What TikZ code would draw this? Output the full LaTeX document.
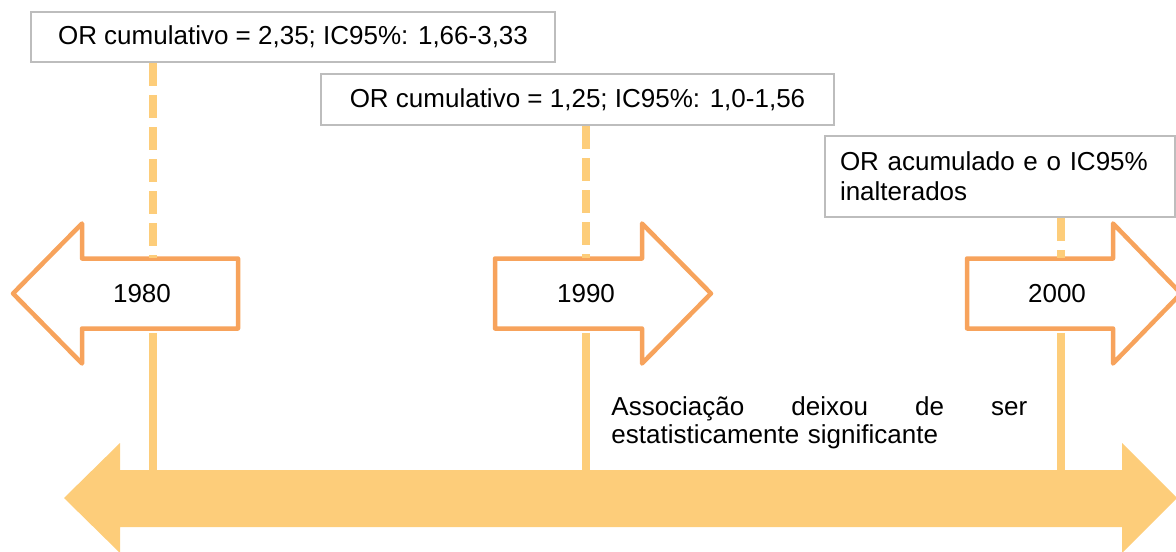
\documentclass[tikz,border=0pt]{standalone}
\usepackage{fontspec}
\setmainfont{Liberation Sans}
\definecolor{arrowline}{HTML}{F7A35C}
\definecolor{timefill}{HTML}{FDCD7A}
\definecolor{boxline}{HTML}{BDBDBD}
\tikzset{
  orbox/.style={draw=boxline, line width=1pt, fill=white, inner sep=0pt, font=\fontsize{13}{15}\selectfont},
  yearlabel/.style={minimum height=35pt, inner sep=0pt, font=\fontsize{13}{15}\selectfont},
  yeararrow/.style={draw=arrowline, line width=2.25pt, line join=round, fill=white},
  dashlink/.style={draw=timefill, line width=4pt, dash pattern=on 11.5pt off 4.5pt},
  solidlink/.style={draw=timefill, line width=4pt},
  note/.style={inner sep=0pt, text width=208pt, align=left, font=\fontsize{13}{14}\selectfont}
}
\begin{document}
\begin{tikzpicture}[x=0.5pt,y=-0.5pt]
\useasboundingbox (0,0) rectangle (1176,551);
\fill[timefill] (64,498) -- (120,443) -- (120,470) -- (1122,470) -- (1122,443) -- (1177,498)
  -- (1122,553) -- (1122,527) -- (120,527) -- (120,553) -- cycle;
\coordinate (tl) at (0,470);
\draw[yeararrow] (238,258.5) -- (82,258.5) -- (82,223.5) -- (13,293.5) -- (82,363.5) -- (82,328.5) -- (238,328.5) -- cycle;
\draw[yeararrow] (495,258.5) -- (642,258.5) -- (642,223.5) -- (711,293.5) -- (642,363.5) -- (642,328.5) -- (495,328.5) -- cycle;
\draw[yeararrow] (967,258.5) -- (1113,258.5) -- (1113,223.5) -- (1181,293.5) -- (1113,363.5) -- (1113,328.5) -- (967,328.5) -- cycle;
\node[yearlabel] (y1980) at (142,293.5) {1980};
\node[yearlabel] (y1990) at (586,293.5) {1990};
\node[yearlabel] (y2000) at (1057,293.5) {2000};
\node[orbox, minimum width=262pt, minimum height=25pt] (or1980) at (293,37) {OR cumulativo = 2,35; IC95\%: 1,66-3,33};
\node[orbox, minimum width=256.5pt, minimum height=25.5pt] (or1990) at (577.5,99.75) {OR cumulativo = 1,25; IC95\%: 1,0-1,56};
\node[orbox, minimum width=175pt, minimum height=40.5pt, text width=160pt, align=left, inner xsep=7.5pt] (or2000) at (1000,176.5) {OR acumulado e o IC95\%\\inalterados};
\coordinate (l1980) at (153,0);
\coordinate (l1990) at (586,0);
\coordinate (l2000) at (1061,0);
\foreach \yr in {1980,1990,2000}{
  \draw[dashlink] (or\yr.south -| l\yr) -- (y\yr.north -| l\yr);
  \draw[solidlink] ([yshift=-2pt]y\yr.south -| l\yr) -- (tl -| l\yr);
}
\node[note, anchor=north west] (assoc) at (611,396) {\hbox to 208pt{Associação\hfill deixou\hfill de\hfill ser}\\estatisticamente significante};
\end{tikzpicture}
\end{document}
